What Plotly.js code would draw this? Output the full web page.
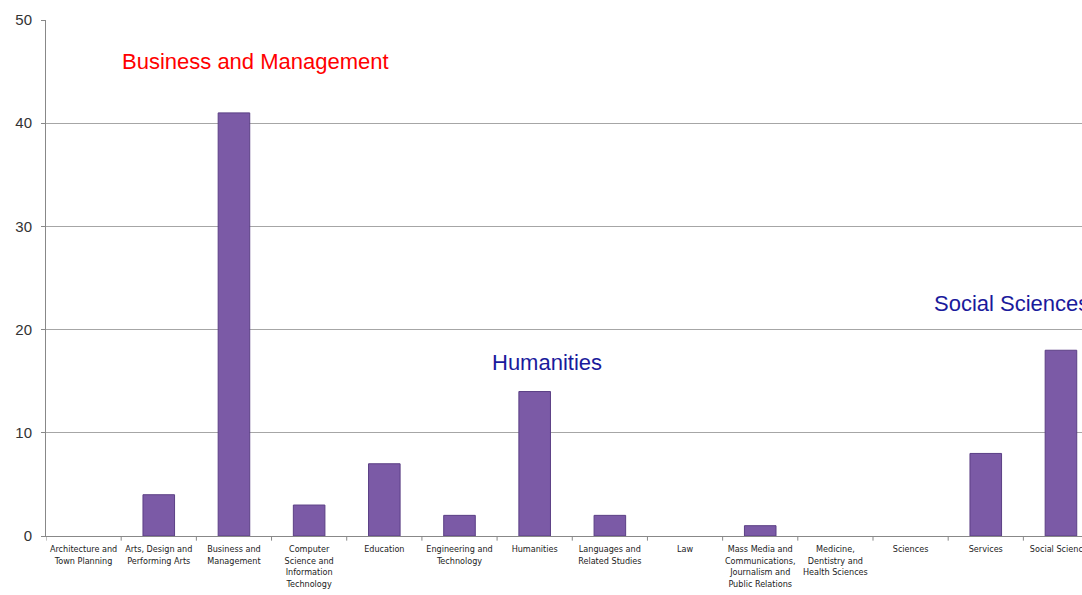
<!DOCTYPE html>
<html><head><meta charset="utf-8">
<script src="https://cdn.plot.ly/plotly-3.0.1.min.js"></script>
<style>html,body{margin:0;padding:0;background:#fff;}#chart{width:1082px;height:595px;}</style>
</head><body><div id="chart"></div>
<script>
const categories = [
  "Architecture and<br>Town Planning",
  "Arts, Design and<br>Performing Arts",
  "Business and<br>Management",
  "Computer<br>Science and<br>Information<br>Technology",
  "Education",
  "Engineering and<br>Technology",
  "Humanities",
  "Languages and<br>Related Studies",
  "Law",
  "Mass Media and<br>Communications,<br>Journalism and<br>Public Relations",
  "Medicine,<br>Dentistry and<br>Health Sciences",
  "Sciences",
  "Services",
  "Social Sciences"
];
const values = [0, 4, 41, 3, 7, 2, 14, 2, 0, 1, 0, 0, 8, 18];
const yTicks = [0, 10, 20, 30, 40, 50];
const labels = [
  {text: "Business and Management", cat: 2.29, y: 46.0, color: "#ff0000", anchor: "center"},
  {text: "Humanities", cat: 6.17, y: 16.8, color: "#1a1a9c", anchor: "center"},
  {text: "Social Sciences", cat: 11.29, y: 22.5, color: "#1a1a9c", anchor: "left"}
];

const trace = {
  type: "bar",
  x: categories.map((c, i) => i),
  y: values,
  width: 0.42,
  marker: {color: "#7b5aa6", line: {color: "#5b3f85", width: values.map(v => v > 0 ? 1 : 0)}},
  hoverinfo: "skip"
};

const layout = {
  width: 1082, height: 595,
  margin: {l: 46, r: 0, t: 20, b: 59},
  paper_bgcolor: "#ffffff", plot_bgcolor: "#ffffff",
  showlegend: false,
  xaxis: {
    type: "linear",
    range: [-0.5, 13.28],
    tickmode: "array",
    tickvals: categories.map((c, i) => i),
    ticktext: categories,
    tickangle: 0,
    ticklabeloverflow: "allow",
    ticklabelstandoff: 4,
    showgrid: false,
    zeroline: false,
    showline: true, linecolor: "#888888", linewidth: 1,
    ticks: "",
    tickfont: {family: "DejaVu Sans Condensed, Liberation Sans Narrow, Arial Narrow, sans-serif", size: 9, color: "#222"},
    fixedrange: true
  },
  yaxis: {
    range: [0, 50],
    tickmode: "array",
    tickvals: yTicks,
    showgrid: true, gridcolor: "#a6a6a6", gridwidth: 1,
    zeroline: false,
    showline: true, linecolor: "#888888", linewidth: 1,
    ticks: "outside", ticklen: 4, tickcolor: "#888888",
    tickfont: {family: "Liberation Sans, Arial", size: 15, color: "#333"},
    ticklabelstandoff: 6,
    fixedrange: true
  },
  shapes: categories.map((c, i) => ({
    type: "line", xref: "x", yref: "paper",
    x0: i - 0.5, x1: i - 0.5, y0: 0, y1: -0.009,
    line: {color: "#888888", width: 1}
  })).concat([{
    type: "line", xref: "x", yref: "paper",
    x0: 13.5, x1: 13.5, y0: 0, y1: -0.009, line: {color: "#888888", width: 1}
  }]),
  annotations: labels.map(l => ({
    x: l.cat, y: l.y, xref: "x", yref: "y",
    text: l.text, showarrow: false,
    xanchor: l.anchor, yanchor: "middle",
    font: {family: "Liberation Sans, Arial", size: 22, color: l.color}
  }))
};

Plotly.newPlot("chart", [trace], layout, {displayModeBar: false, staticPlot: true});
</script>
</body></html>
